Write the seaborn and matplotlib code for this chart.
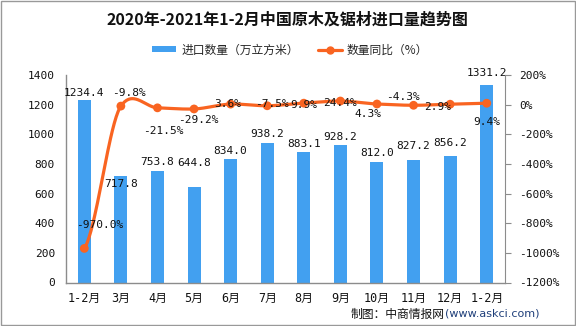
import numpy as np
import pandas as pd
import matplotlib
matplotlib.use("Agg")
import matplotlib.pyplot as plt
from matplotlib.patches import Rectangle
from matplotlib.lines import Line2D
import seaborn as sns

# ---- data ----
months = ["1-2月", "3月", "4月", "5月", "6月", "7月", "8月", "9月", "10月", "11月", "12月", "1-2月"]
volume = [1234.4, 717.8, 753.8, 644.8, 834.0, 938.2, 883.1, 928.2, 812.0, 827.2, 856.2, 1331.2]
yoy = [-970.0, -9.8, -21.5, -29.2, 3.6, -7.5, 9.9, 24.4, 4.3, -4.3, 2.9, 9.4]
left_ticks = [0, 200, 400, 600, 800, 1000, 1200, 1400]
right_ticks = [200, 0, -200, -400, -600, -800, -1000, -1200]

# label placement offsets (pixels)
bar_label_dy = [7, -8, 9, 24, 8, 9, 8, 8, 9, 14, 13, 12]
pct_label_off = [(15, 23), (8, 13), (6, -23), (4, -11), (-3, 0), (5, 2),
                 (0, -2), (0, -2), (-9, -10), (-11, 8), (-12, -3), (0, -19)]

bar_color = "#42A0F0"
line_color = "#F96421"
spine_color = "#8C8C8C"

sns.set_style("white")
plt.rcParams["font.family"] = ["DejaVu Sans Mono", "Noto Sans CJK SC", "DejaVu Sans"]
num_font = ["DejaVu Sans Mono", "Noto Sans CJK SC"]
cjk_font = ["Noto Sans CJK SC", "DejaVu Sans"]

fig = plt.figure(figsize=(5.76, 3.26), dpi=100)
ax = fig.add_axes([66 / 576, 1 - 282.5 / 326, (505 - 66) / 576, (282.5 - 75) / 326])

df = pd.DataFrame({"pos": list(range(len(months))), "volume": volume})
sns.barplot(data=df, x="pos", y="volume", ax=ax, color=bar_color, width=0.355,
            saturation=1, edgecolor="none")
ax.set_xlim(-0.5, len(months) - 0.5)
ax.set_ylim(0, 1400)
ax.set_yticks(left_ticks)
ax.set_yticklabels([str(t) for t in left_ticks], fontsize=8, family=num_font, color="#111111")
ax.set_xticks(range(len(months)))
ax.set_xticklabels(months, fontsize=8.5, family=num_font, color="#111111")
ax.set_xticks(np.arange(-0.5, len(months), 1.0), minor=True)
ax.tick_params(axis="x", which="major", length=0, pad=7)
ax.tick_params(axis="x", which="minor", length=4, color=spine_color, direction="out")
ax.tick_params(axis="y", length=0, pad=8)
ax.set_xlabel("")
ax.set_ylabel("")
for s in ["top", "right"]:
    ax.spines[s].set_visible(False)
for s in ["left", "bottom"]:
    ax.spines[s].set_color(spine_color)
    ax.spines[s].set_linewidth(1)

for i, v in enumerate(volume):
    ax.annotate(f"{v:.1f}", xy=(i, v), xytext=(0, bar_label_dy[i]), textcoords="offset pixels",
                ha="center", va="center", fontsize=8, family=num_font, color="#111111")

# ---- secondary axis: yoy line ----
ax2 = ax.twinx()
ax2.set_ylim(-1200, 200)
ax2.set_yticks(right_ticks)
ax2.set_yticklabels([f"{t}%" for t in right_ticks], fontsize=8, family=num_font, color="#111111")
ax2.tick_params(axis="y", length=4, color=spine_color, pad=6)
for s in ["top", "left", "bottom"]:
    ax2.spines[s].set_visible(False)
ax2.spines["right"].set_color(spine_color)

# smoothed curve through the data points (cardinal-spline Bezier)
n = len(yoy)
k = 1 / 8.0
xs_s, ys_s = [], []
t = np.linspace(0, 1, 40)
for i in range(n - 1):
    p0 = yoy[i - 1] if i > 0 else yoy[i]
    p1 = yoy[i]
    p2 = yoy[i + 1]
    p3 = yoy[i + 2] if i + 2 < n else yoy[i + 1]
    c1 = p1 + (p2 - p0) * k
    c2 = p2 - (p3 - p1) * k
    yy = (1 - t) ** 3 * p1 + 3 * (1 - t) ** 2 * t * c1 + 3 * (1 - t) * t ** 2 * c2 + t ** 3 * p2
    xs_s.extend(list(i + t))
    ys_s.extend(list(yy))
ax2.plot(xs_s, ys_s, color=line_color, lw=2.3, solid_capstyle="round", zorder=3)
sns.scatterplot(x=list(range(n)), y=yoy, ax=ax2, color=line_color, s=40,
                edgecolor="none", zorder=4, legend=False)
ax2.set_xlim(-0.5, n - 0.5)
ax2.set_ylabel("")

for i, v in enumerate(yoy):
    dx, dy = pct_label_off[i]
    ax2.annotate(f"{v:.1f}%", xy=(i, v), xytext=(dx, dy), textcoords="offset pixels",
                 ha="center", va="center", fontsize=8, family=num_font, color="#111111", zorder=5)

# ---- title ----
fig.text(287 / 576, 1 - 20 / 326, "2020年-2021年1-2月中国原木及锯材进口量趋势图",
         ha="center", va="center", fontsize=11.5, fontweight="bold", family=cjk_font, color="#111111")

# ---- legend ----
handles = [
    Rectangle((0, 0), 1, 1, facecolor=bar_color, edgecolor="none"),
    Line2D([0], [0], color=line_color, lw=2.3, marker="o", markersize=5),
]
leg = fig.legend(handles, ["进口数量（万立方米）", "数量同比（%）"], loc="center",
                 bbox_to_anchor=(290 / 576, 1 - 50 / 326), ncol=2, frameon=False,
                 prop={"family": cjk_font, "size": 8.5}, handlelength=2.1,
                 handleheight=0.45, columnspacing=1.6, handletextpad=0.4)

# ---- source ----
src2 = fig.text(539 / 576, 1 - 314 / 326, "(www.askci.com)", ha="right", va="center",
                fontsize=8, family=["DejaVu Sans"], color="#1F3F7A")
ax.annotate("制图：中商情报网", xy=(0, 0.5), xycoords=src2, ha="right", va="center",
            fontsize=8.5, family=cjk_font, color="#111111", annotation_clip=False)

# ---- border ----
fig.patches.append(Rectangle((0.001, 0.002), 0.997, 0.995, transform=fig.transFigure,
                             fill=False, edgecolor="#999999", lw=1))

fig.savefig("out.png", dpi=100)
